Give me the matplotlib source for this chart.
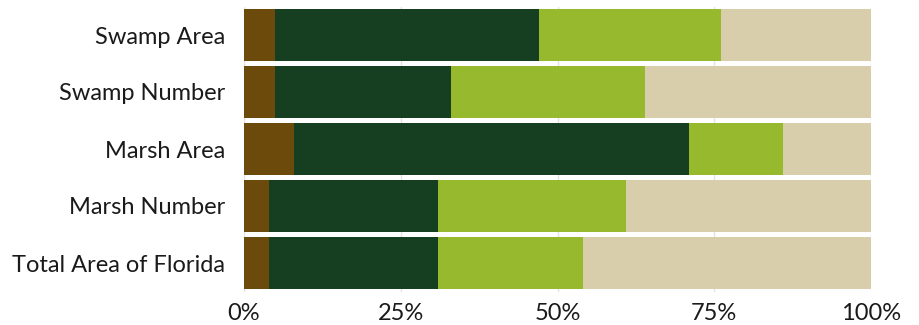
import matplotlib
matplotlib.use("Agg")
import matplotlib.pyplot as plt
import numpy as np

categories = ["Swamp Area", "Swamp Number", "Marsh Area", "Marsh Number", "Total Area of Florida"]
seg1 = [5, 5, 8, 4, 4]
seg2 = [42, 28, 63, 27, 27]
seg3 = [29, 31, 15, 30, 23]
seg4 = [24, 36, 14, 39, 46]
xticks = [0, 25, 50, 75, 100]
xtick_labels = ["0%", "25%", "50%", "75%", "100%"]
colors = ["#6B4A0B", "#163F22", "#97B92E", "#D8CEAB"]

plt.rcParams['font.family'] = ['Lato', 'DejaVu Sans']

fig = plt.figure(figsize=(9.19, 3.25), dpi=100)
ax = fig.add_axes([244/919, 1 - 291.5/325, (871-244)/919, 285/325])

y = np.arange(len(categories))[::-1]
left = np.zeros(len(categories))
for vals, c in zip([seg1, seg2, seg3, seg4], colors):
    ax.barh(y, vals, left=left, height=0.91, color=c, zorder=3, linewidth=0)
    left = left + np.array(vals)

ax.set_xlim(0, 100)
ax.set_ylim(-0.5, len(categories) - 0.5)
ax.set_yticks(y)
ax.set_yticklabels(categories)
ax.set_xticks(xticks)
ax.set_xticklabels(xtick_labels)
ax.tick_params(axis='both', length=0, labelsize=17, colors="#1a1a1a")
ax.tick_params(axis='y', pad=13.5)
ax.tick_params(axis='x', pad=8)
ax.grid(axis='x', color="#e3e3e3", linewidth=1, zorder=0)
ax.grid(axis='y', visible=False)
for s in ax.spines.values():
    s.set_visible(False)

fig.savefig("out.png", dpi=100)
